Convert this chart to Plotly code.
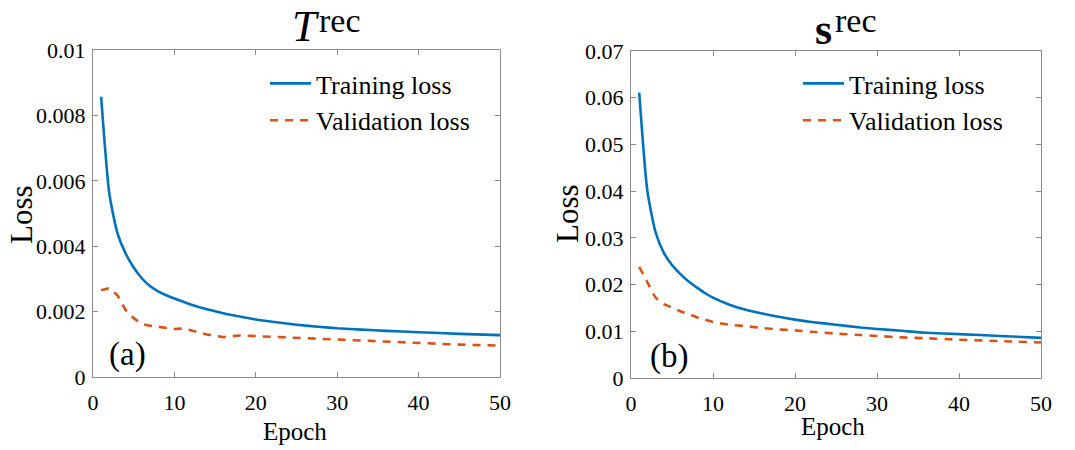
import plotly.graph_objects as go

# ---- data ----
epochs = [1, 2, 3, 4, 5, 6, 7, 8, 9, 10, 12, 14, 16, 18, 20, 22, 25, 28, 30, 33, 36, 40, 45, 50]

t_train = [0.00857, 0.00562, 0.00440, 0.00378, 0.00335, 0.00302, 0.00278, 0.00262, 0.00250, 0.00240,
           0.00222, 0.00207, 0.00195, 0.00185, 0.00176, 0.00169, 0.00160, 0.00153, 0.00149, 0.00145,
           0.00141, 0.00137, 0.00132, 0.00128]

t_val_epochs = [1, 2, 3, 4, 5, 6, 7, 8, 9, 10, 11, 12, 14, 16, 18, 20, 22, 25, 28, 30, 33, 36, 40, 45, 50]
t_val = [0.00265, 0.00272, 0.00250, 0.00205, 0.00180, 0.00162, 0.00157, 0.00154, 0.00150, 0.00147,
         0.00148, 0.00143, 0.00130, 0.00122, 0.00127, 0.00125, 0.00121, 0.00118, 0.00117, 0.00113,
         0.00110, 0.00107, 0.00103, 0.00099, 0.00096]

s_train = [0.0611, 0.0400, 0.0312, 0.0268, 0.0242, 0.0223, 0.0207, 0.0194, 0.0182, 0.0172,
           0.0157, 0.0146, 0.0138, 0.0131, 0.0125, 0.0120, 0.0114, 0.0108, 0.0105, 0.0101,
           0.0097, 0.0094, 0.0090, 0.0086]

s_val = [0.0238, 0.0205, 0.0172, 0.0158, 0.0151, 0.0143, 0.0137, 0.0130, 0.0125, 0.0120,
         0.0114, 0.0111, 0.0107, 0.0104, 0.0102, 0.0099, 0.0095, 0.0092, 0.0090, 0.0087,
         0.0085, 0.0082, 0.0079, 0.0076]

x_ticks = [0, 10, 20, 30, 40, 50]
t_yticks = [0, 0.002, 0.004, 0.006, 0.008, 0.01]
t_ytick_labels = ["0", "0.002", "0.004", "0.006", "0.008", "0.01"]
s_yticks = [0, 0.01, 0.02, 0.03, 0.04, 0.05, 0.06, 0.07]
s_ytick_labels = ["0", "0.01", "0.02", "0.03", "0.04", "0.05", "0.06", "0.07"]

BLUE = "#0072BD"
ORANGE = "#D95319"
FONT = "Liberation Serif"
W, H = 1075, 450

fig = go.Figure()
fig.add_trace(go.Scatter(x=epochs, y=t_train, mode="lines", name="Training loss",
                         line=dict(color=BLUE, width=2.6, shape="spline", smoothing=0.6),
                         xaxis="x", yaxis="y", legend="legend"))
fig.add_trace(go.Scatter(x=t_val_epochs, y=t_val, mode="lines", name="Validation loss",
                         line=dict(color=ORANGE, width=2.6, dash="8px,7px"),
                         xaxis="x", yaxis="y", legend="legend"))
fig.add_trace(go.Scatter(x=epochs, y=s_train, mode="lines", name="Training loss",
                         line=dict(color=BLUE, width=2.6, shape="spline", smoothing=0.6),
                         xaxis="x2", yaxis="y2", legend="legend2"))
fig.add_trace(go.Scatter(x=epochs, y=s_val, mode="lines", name="Validation loss",
                         line=dict(color=ORANGE, width=2.6, dash="8px,7px", shape="spline", smoothing=0.4),
                         xaxis="x2", yaxis="y2", legend="legend2"))

axis_common = dict(showline=True, linecolor="#8c8c8c", linewidth=1, mirror="allticks",
                   ticks="inside", ticklen=5, tickcolor="#8c8c8c", tickwidth=1,
                   showgrid=False, zeroline=False, automargin=False,
                   tickfont=dict(family=FONT, size=22, color="black"))

ybot_l, ytop_l = 1 - 377 / H, 1 - 50 / H
ybot_r, ytop_r = 1 - 378 / H, 1 - 51 / H

legend_common = dict(xanchor="left", yanchor="top", bgcolor="rgba(0,0,0,0)",
                     font=dict(family=FONT, size=26, color="black"),
                     tracegroupgap=0, itemwidth=41)

fig.update_layout(
    width=W, height=H,
    margin=dict(l=0, r=0, t=0, b=0, autoexpand=False),
    paper_bgcolor="white", plot_bgcolor="white",
    xaxis=dict(domain=[93 / W, 500 / W], range=[0, 50], tickvals=x_ticks, anchor="y",
               ticklabelstandoff=6, **axis_common),
    yaxis=dict(domain=[ybot_l, ytop_l], range=[0, 0.01], tickvals=t_yticks, ticktext=t_ytick_labels,
               anchor="x", ticklabelstandoff=2, **axis_common),
    xaxis2=dict(domain=[631 / W, 1041 / W], range=[0, 50], tickvals=x_ticks, anchor="y2",
                ticklabelstandoff=6, **axis_common),
    yaxis2=dict(domain=[ybot_r, ytop_r], range=[0, 0.07], tickvals=s_yticks, ticktext=s_ytick_labels,
                anchor="x2", ticklabelstandoff=2, **axis_common),
    legend=dict(x=265 / W, y=1 - 60 / H, **legend_common),
    legend2=dict(x=798 / W, y=1 - 60 / H, **legend_common),
    showlegend=True,
)

def ann(text, x, y, size, angle=0, xanchor="center", yanchor="middle"):
    fig.add_annotation(text=text, x=x / W, y=1 - y / H, xref="paper", yref="paper",
                       showarrow=False, textangle=angle, xanchor=xanchor, yanchor=yanchor,
                       font=dict(family=FONT, size=size, color="black"))

ann("Loss", 22, 214, 31, -90)
ann("Loss", 568, 214, 31, -90)
ann("Epoch", 295, 431, 25)
ann("Epoch", 833, 426, 25)
ann("(a)", 127, 354, 33)
ann("(b)", 669, 356, 33)
ann("<i>T</i>", 306, 26, 44)
ann("rec", 317, 0, 34, xanchor="left", yanchor="top")
ann("<b>s</b>", 823, 30, 44)
ann("rec", 833, 0, 34, xanchor="left", yanchor="top")

fig.write_html("out.html")
